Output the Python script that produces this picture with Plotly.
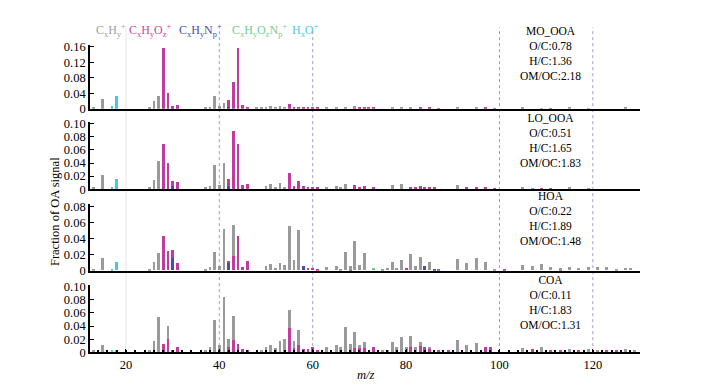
import plotly.graph_objects as go

# ---------------- data (fraction of OA signal by m/z and ion family) ----------------
PANEL_STATS = [
    ["MO_OOA", "O/C:0.78", "H/C:1.36", "OM/OC:2.18"],
    ["LO_OOA", "O/C:0.51", "H/C:1.65", "OM/OC:1.83"],
    ["HOA", "O/C:0.22", "H/C:1.89", "OM/OC:1.48"],
    ["COA", "O/C:0.11", "H/C:1.83", "OM/OC:1.31"],
]
FAMILIES = ["CxHyNp", "CxHyOzNp", "HxO", "CxHyOz", "CxHy"]  # stacking order bottom -> top

mo_ooa_cxhy = {13: 0.002, 15: 0.025, 25: 0.003, 26: 0.019, 27: 0.032, 37: 0.003, 38: 0.005,
               39: 0.032, 40: 0.007, 41: 0.015, 48: 0.003, 49: 0.003, 50: 0.005, 51: 0.006,
               52: 0.004, 53: 0.005, 54: 0.003, 63: 0.002, 65: 0.003, 67: 0.004, 69: 0.002,
               77: 0.003, 79: 0.003, 81: 0.002, 91: 0.003, 95: 0.002, 105: 0.002, 109: 0.001,
               115: 0.002, 119: 0.001, 127: 0.002}
mo_ooa_cxhyoz = {28: 0.156, 29: 0.041, 30: 0.004, 31: 0.010, 42: 0.018, 43: 0.069, 44: 0.156,
                 45: 0.011, 46: 0.003, 53: 0.002, 55: 0.012, 56: 0.004, 57: 0.004, 58: 0.002,
                 59: 0.002, 60: 0.003, 61: 0.002, 69: 0.003, 70: 0.002, 71: 0.003, 72: 0.002,
                 73: 0.002, 83: 0.002, 85: 0.002, 87: 0.001, 97: 0.002, 99: 0.001, 111: 0.001}
mo_ooa_cxhynp = {30: 0.003, 42: 0.004}
mo_ooa_hxo = {17: 0.007, 18: 0.033}
mo_ooa_cxhyoznp = {}

lo_ooa_cxhy = {13: 0.002, 15: 0.022, 25: 0.002, 26: 0.013, 27: 0.043, 37: 0.002, 38: 0.005,
               39: 0.036, 40: 0.006, 41: 0.039, 50: 0.005, 51: 0.007, 52: 0.003, 53: 0.009,
               54: 0.003, 63: 0.002, 65: 0.004, 66: 0.002, 67: 0.008, 77: 0.006, 79: 0.007,
               91: 0.006, 105: 0.002, 107: 0.001, 115: 0.002, 119: 0.001}
lo_ooa_cxhyoz = {28: 0.069, 29: 0.039, 30: 0.007, 31: 0.011, 42: 0.012, 43: 0.088, 44: 0.069,
                 45: 0.006, 46: 0.008, 55: 0.024, 56: 0.004, 57: 0.012, 58: 0.004, 59: 0.003,
                 60: 0.003, 61: 0.002, 69: 0.006, 70: 0.003, 71: 0.005, 73: 0.003, 81: 0.003,
                 82: 0.002, 83: 0.004, 84: 0.002, 85: 0.003, 86: 0.002, 93: 0.002, 95: 0.002,
                 97: 0.002, 99: 0.001, 109: 0.001, 111: 0.001}
lo_ooa_cxhynp = {30: 0.005, 42: 0.004}
lo_ooa_hxo = {17: 0.003, 18: 0.015}
lo_ooa_cxhyoznp = {}

hoa_cxhy = {13: 0.0016, 15: 0.016, 25: 0.001, 26: 0.010, 27: 0.022, 37: 0.0016, 38: 0.004,
            39: 0.023, 40: 0.0056, 41: 0.052, 43: 0.038, 50: 0.0056, 51: 0.008, 52: 0.003,
            53: 0.0096, 54: 0.007, 55: 0.055, 56: 0.0125, 57: 0.050, 63: 0.0045, 65: 0.006,
            66: 0.002, 67: 0.023, 68: 0.004, 69: 0.037, 70: 0.007, 71: 0.022, 75: 0.001,
            76: 0.0025, 77: 0.010, 78: 0.003, 79: 0.013, 81: 0.021, 82: 0.005, 83: 0.017,
            85: 0.011, 91: 0.014, 93: 0.009, 95: 0.015, 97: 0.010, 99: 0.002, 105: 0.007,
            107: 0.0056, 109: 0.008, 111: 0.004, 113: 0.002, 115: 0.004, 117: 0.003,
            119: 0.004, 121: 0.004, 123: 0.004, 125: 0.002, 127: 0.003, 128: 0.003}
hoa_cxhyoz = {28: 0.043, 29: 0.0245, 30: 0.010, 31: 0.009, 42: 0.001, 43: 0.018, 44: 0.043,
              45: 0.0045, 46: 0.012, 59: 0.0025, 60: 0.003, 61: 0.001, 80: 0.0025,
              87: 0.001, 101: 0.001, 113: 0.001}
hoa_cxhynp = {30: 0.016, 42: 0.010, 58: 0.005, 68: 0.001, 84: 0.0055, 86: 0.001}
hoa_hxo = {17: 0.002, 18: 0.010}
hoa_cxhyoznp = {73: 0.003}

coa_cxhy = {13: 0.003, 15: 0.010, 25: 0.003, 26: 0.017, 27: 0.053, 29: 0.020, 37: 0.003,
            38: 0.007, 39: 0.048, 40: 0.011, 41: 0.084, 42: 0.011, 43: 0.037, 49: 0.002,
            50: 0.008, 51: 0.011, 52: 0.006, 53: 0.017, 54: 0.019, 55: 0.028, 56: 0.011,
            57: 0.023, 63: 0.007, 65: 0.011, 66: 0.007, 67: 0.038, 68: 0.012, 69: 0.025,
            70: 0.004, 71: 0.009, 75: 0.003, 76: 0.003, 77: 0.015, 78: 0.008, 79: 0.022,
            80: 0.008, 81: 0.017, 82: 0.008, 83: 0.006, 85: 0.003, 91: 0.018, 93: 0.011,
            95: 0.013, 105: 0.006, 109: 0.007, 115: 0.004, 119: 0.004, 121: 0.003,
            127: 0.004, 129: 0.003}
coa_cxhyoz = {28: 0.012, 29: 0.020, 30: 0.002, 31: 0.007, 42: 0.006, 43: 0.018, 44: 0.012,
              45: 0.005, 46: 0.002, 55: 0.036, 56: 0.006, 57: 0.011, 58: 0.005, 59: 0.005,
              60: 0.008, 61: 0.003, 69: 0.006, 70: 0.006, 71: 0.006, 73: 0.007, 81: 0.007,
              83: 0.009, 84: 0.004, 85: 0.005, 87: 0.002, 89: 0.002, 97: 0.007, 98: 0.007,
              107: 0.004, 111: 0.003, 113: 0.002, 117: 0.003, 123: 0.002, 125: 0.002}
coa_cxhynp = {42: 0.002, 84: 0.003}
coa_hxo = {17: 0.002, 18: 0.003}
coa_cxhyoznp = {}

PANEL_DATA = [
    {"CxHy": mo_ooa_cxhy, "CxHyOz": mo_ooa_cxhyoz, "CxHyNp": mo_ooa_cxhynp, "CxHyOzNp": mo_ooa_cxhyoznp, "HxO": mo_ooa_hxo},
    {"CxHy": lo_ooa_cxhy, "CxHyOz": lo_ooa_cxhyoz, "CxHyNp": lo_ooa_cxhynp, "CxHyOzNp": lo_ooa_cxhyoznp, "HxO": lo_ooa_hxo},
    {"CxHy": hoa_cxhy, "CxHyOz": hoa_cxhyoz, "CxHyNp": hoa_cxhynp, "CxHyOzNp": hoa_cxhyoznp, "HxO": hoa_hxo},
    {"CxHy": coa_cxhy, "CxHyOz": coa_cxhyoz, "CxHyNp": coa_cxhynp, "CxHyOzNp": coa_cxhyoznp, "HxO": coa_hxo},
]
Y_TICKS = [[0, 0.04, 0.08, 0.12, 0.16], [0, 0.02, 0.04, 0.06, 0.08, 0.10],
           [0, 0.02, 0.04, 0.06, 0.08], [0, 0.02, 0.04, 0.06, 0.08, 0.10]]
Y_TICKTEXT = [["0", "0.04", "0.08", "0.12", "0.16"], ["0", "0.02", "0.04", "0.06", "0.08", "0.10"],
              ["0", "0.02", "0.04", "0.06", "0.08"], ["0", "0.02", "0.04", "0.06", "0.08", "0.10"]]
Y_MAX = [0.165, 0.1025, 0.0828, 0.1015]
X_TICKS = [20, 40, 60, 80, 100, 120]
GUIDE_MZ = [40, 60, 100, 120]

# ---------------- styling ----------------
OFF = 8                    # page body margin offset of the rendered html
W, H = 706 - OFF, 392 - OFF
FONT = "Liberation Serif"
COLORS = {"CxHy": "#9a9a9a", "CxHyOz": "#c23c9e", "CxHyNp": "#4b4bb0",
          "CxHyOzNp": "#66c98a", "HxO": "#48c6da"}
LEGEND_COLORS = {"CxHy": "#a0a0a0", "CxHyOz": "#d0449f", "CxHyNp": "#4d4dae",
                 "CxHyOzNp": "#6fcf8f", "HxO": "#4fcbdc"}
LEGEND_TEXT = {"CxHy": "C<sub>x</sub>H<sub>y</sub><sup>+</sup>",
               "CxHyOz": "C<sub>x</sub>H<sub>y</sub>O<sub>z</sub><sup>+</sup>",
               "CxHyNp": "C<sub>x</sub>H<sub>y</sub>N<sub>p</sub><sup>+</sup>",
               "CxHyOzNp": "C<sub>x</sub>H<sub>y</sub>O<sub>z</sub>N<sub>p</sub><sup>+</sup>",
               "HxO": "H<sub>x</sub>O<sup>+</sup>"}
LEGEND_X = {"CxHy": 111, "CxHyOz": 150, "CxHyNp": 200, "CxHyOzNp": 259, "HxO": 305}

# panel pixel extents in the reference (top, bottom)
PANEL_PX = [(40, 106), (120, 189.3), (205, 273.7), (289, 358.3)]
STAT_CENTER_Y = [49, 138.5, 219.5, 307]
X_LEFT, X_RIGHT = 90, 640
XRANGE = [12.3, 130.1]


def px(x):
    return (x - OFF) / W


def py(y):
    return 1 - (y - OFF) / H


fig = go.Figure()
for i, pdata in enumerate(PANEL_DATA):
    ax = "" if i == 0 else str(i + 1)
    for fam in FAMILIES:
        d = pdata[fam]
        if not d:
            continue
        xs = sorted(d)
        fig.add_trace(go.Bar(x=xs, y=[d[k] for k in xs], width=0.62,
                             marker=dict(color=COLORS[fam], line=dict(width=0)),
                             xaxis="x" + ax, yaxis="y" + ax, showlegend=False,
                             name=fam))

layout = dict(width=W, height=H, margin=dict(l=0, r=0, t=0, b=0),
              paper_bgcolor="white", plot_bgcolor="rgba(0,0,0,0)",
              barmode="stack", bargap=0, font=dict(family=FONT, size=12, color="black"),
              showlegend=False)
for i in range(4):
    ax = "" if i == 0 else str(i + 1)
    top, bot = PANEL_PX[i]
    last = (i == 3)
    xa = dict(domain=[px(X_LEFT), px(X_RIGHT)], range=XRANGE, anchor="y" + ax,
              showline=True, linecolor="black", linewidth=1.6, showgrid=False, zeroline=False,
              showticklabels=last, tickvals=X_TICKS, ticks="inside" if last else "",
              ticklen=4, tickcolor="black", tickwidth=1.2,
              tickfont=dict(family=FONT, size=12.5, color="black"))
    if last:
        xa["minor"] = dict(dtick=2, tick0=0, ticks="inside", ticklen=3, tickcolor="black", tickwidth=1.6)
    if i > 0:
        xa["matches"] = "x"
    ya = dict(domain=[py(bot), py(top)], range=[0, Y_MAX[i]], anchor="x" + ax,
              showline=True, linecolor="black", linewidth=1.6, showgrid=False, zeroline=False,
              tickvals=Y_TICKS[i], ticktext=Y_TICKTEXT[i], ticks="inside", ticklen=4,
              tickcolor="black", tickwidth=1.2, tickfont=dict(family=FONT, size=12.5, color="black"))
    layout["xaxis" + ax] = xa
    layout["yaxis" + ax] = ya
fig.update_layout(**layout)

# guide lines
shapes = [dict(type="line", xref="x", yref="paper", x0=20, x1=20, y0=py(358), y1=py(22),
               line=dict(color="#e6e6e6", width=1), layer="below")]
for m in GUIDE_MZ:
    shapes.append(dict(type="line", xref="x", yref="paper", x0=m, x1=m, y0=py(358), y1=py(22),
                       line=dict(color="#9c9cd0", width=1, dash="dot"), layer="below"))
fig.update_layout(shapes=shapes)

ann = []
for fam in ["CxHy", "CxHyOz", "CxHyNp", "CxHyOzNp", "HxO"]:
    ann.append(dict(text=LEGEND_TEXT[fam], x=px(LEGEND_X[fam]), y=py(25), xref="paper", yref="paper",
                    showarrow=False, xanchor="center", yanchor="middle",
                    font=dict(family=FONT, size=12, color=LEGEND_COLORS[fam])))
for i, lines in enumerate(PANEL_STATS):
    ann.append(dict(text="<br>".join(lines), x=px(550), y=py(STAT_CENTER_Y[i]), xref="paper", yref="paper",
                    showarrow=False, xanchor="center", yanchor="middle", align="center",
                    font=dict(family=FONT, size=11.5, color="black")))
ann.append(dict(text="Fraction of OA signal", x=px(55), y=py(213), xref="paper", yref="paper",
                showarrow=False, textangle=-90, xanchor="center", yanchor="middle",
                font=dict(family=FONT, size=12.5, color="black")))
ann.append(dict(text="<i>m/z</i>", x=px(366), y=py(382), xref="paper", yref="paper",
                showarrow=False, xanchor="center", yanchor="middle",
                font=dict(family=FONT, size=12.5, color="black")))
fig.update_layout(annotations=ann)

fig.write_html("out.html")
